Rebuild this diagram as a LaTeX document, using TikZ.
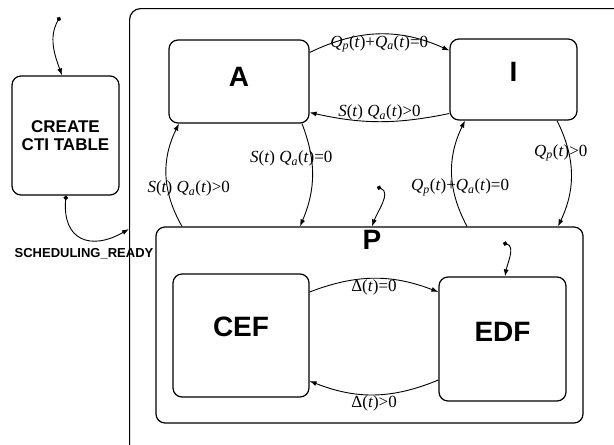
\documentclass[tikz,border=0pt]{standalone}
\usepackage{fontspec}
\setmainfont{Liberation Sans}
\newfontfamily\condfont{Liberation Serif}
\usetikzlibrary{arrows.meta}
\newcommand{\qterm}[1]{\textit{Q}\textsubscript{\textit{#1}}(\textit{t})}
\newcommand{\sterm}{\textit{S}(\textit{t})}

\tikzset{
  statebox/.style={draw, line width=1.2pt, rounded corners=9pt, inner sep=0pt,
    font=\bfseries\fontsize{28}{30}\selectfont},
  lift/.style={text depth=#1},
  trans/.style={draw, line width=0.9pt, -{Latex[length=7pt,width=5pt]}},
  startarc/.style={trans, {Circle[length=4.5pt]}-{Latex[length=7pt,width=5pt]}},
  cond/.style={font=\condfont\fontsize{17}{19}\selectfont, inner sep=1pt}
}

\begin{document}
\begin{tikzpicture}[x=1pt,y=-1pt]
  \useasboundingbox (0,0) rectangle (614,445);
  \clip (0,0) rectangle (614,445);

  % states
  \node[statebox, rounded corners=11pt, minimum width=540pt, minimum height=480pt,
        anchor=north west] (sys) at (129,8) {};
  \node[statebox, minimum width=107pt, minimum height=119pt, align=center,
        font=\bfseries\fontsize{17}{18}\selectfont] (cti) at (65.5,135.5) {CREATE\\CTI TABLE};
  \node[statebox, lift=9pt, minimum width=140pt, minimum height=83pt] (A) at (239,81.5) {A};
  \node[statebox, lift=15pt, minimum width=127pt, minimum height=81pt] (I) at (513.5,79.5) {I};
  \node[statebox, minimum width=427pt, minimum height=196pt,
        label={[anchor=north, inner sep=4pt, xshift=2.5pt,
                font=\bfseries\fontsize{28}{30}\selectfont]north:P}] (P) at (369.5,325) {};
  \node[statebox, lift=17pt, minimum width=136pt, minimum height=123pt] (CEF) at (241,335.5) {CEF};
  \node[statebox, lift=14pt, minimum width=127pt, minimum height=124pt] (EDF) at (502.5,339) {EDF};

  \coordinate (Cstart) at (60,17);
  \coordinate (Pstart) at (377,187);
  \coordinate (Estart) at (503,243);

  % transitions
  \draw[startarc] (Cstart) to[out=-120,in=110] ([xshift=-3.5pt]cti.north);
  \draw[startarc] ([xshift=0.5pt]cti.south) to[out=-95,in=210,looseness=1.6]
    node[at end, xshift=-45pt, yshift=-25pt, font=\bfseries\fontsize{13}{15}\selectfont]
      {SCHEDULING\_READY} ([yshift=-221pt]sys.north west);

  \draw[trans] ([yshift=29pt]A.east) to[bend left=25]
    node[cond, below] {\qterm{p}+\qterm{a}=0} ([yshift=29pt]I.west);
  \draw[trans] ([yshift=-34pt]I.west) to[bend left=12]
    node[cond, above] {\sterm{} \qterm{a}>0} ([yshift=-31pt]A.east);

  \draw[trans] ([xshift=-187.5pt]P.north) to[bend left=28]
    node[cond, pos=0.37, xshift=21pt] {\sterm{} \qterm{a}>0} ([xshift=-60pt]A.south);
  \draw[trans] ([xshift=63pt]A.south) to[bend left=22]
    node[cond, pos=0.33, xshift=-20pt] {\sterm{} \qterm{a}=0} ([xshift=-69.5pt]P.north);
  \draw[trans] ([xshift=97.5pt]P.north) to[bend left=27]
    node[cond, pos=0.37, xshift=7pt] {\qterm{p}+\qterm{a}=0} ([xshift=-48.5pt]I.south);
  \draw[trans] ([xshift=43.5pt]I.south) to[bend left=26]
    node[cond, pos=0.3, xshift=-8pt] {\qterm{p}>0} ([xshift=188.5pt]P.north);

  \draw[startarc] (Pstart) to[out=-20,in=70] ([xshift=2.5pt]P.north);
  \draw[startarc] (Estart) to[out=-15,in=80] ([xshift=2.5pt]EDF.north);

  \draw[trans] ([yshift=43.5pt]CEF.east) to[bend left=21]
    node[cond, below] {Δ(\textit{t})=0} ([yshift=47pt]EDF.west);
  \draw[trans] ([yshift=-41pt]EDF.west) to[bend left=22]
    node[cond, below] {Δ(\textit{t})>0} ([yshift=-45.5pt]CEF.east);
\end{tikzpicture}
\end{document}
